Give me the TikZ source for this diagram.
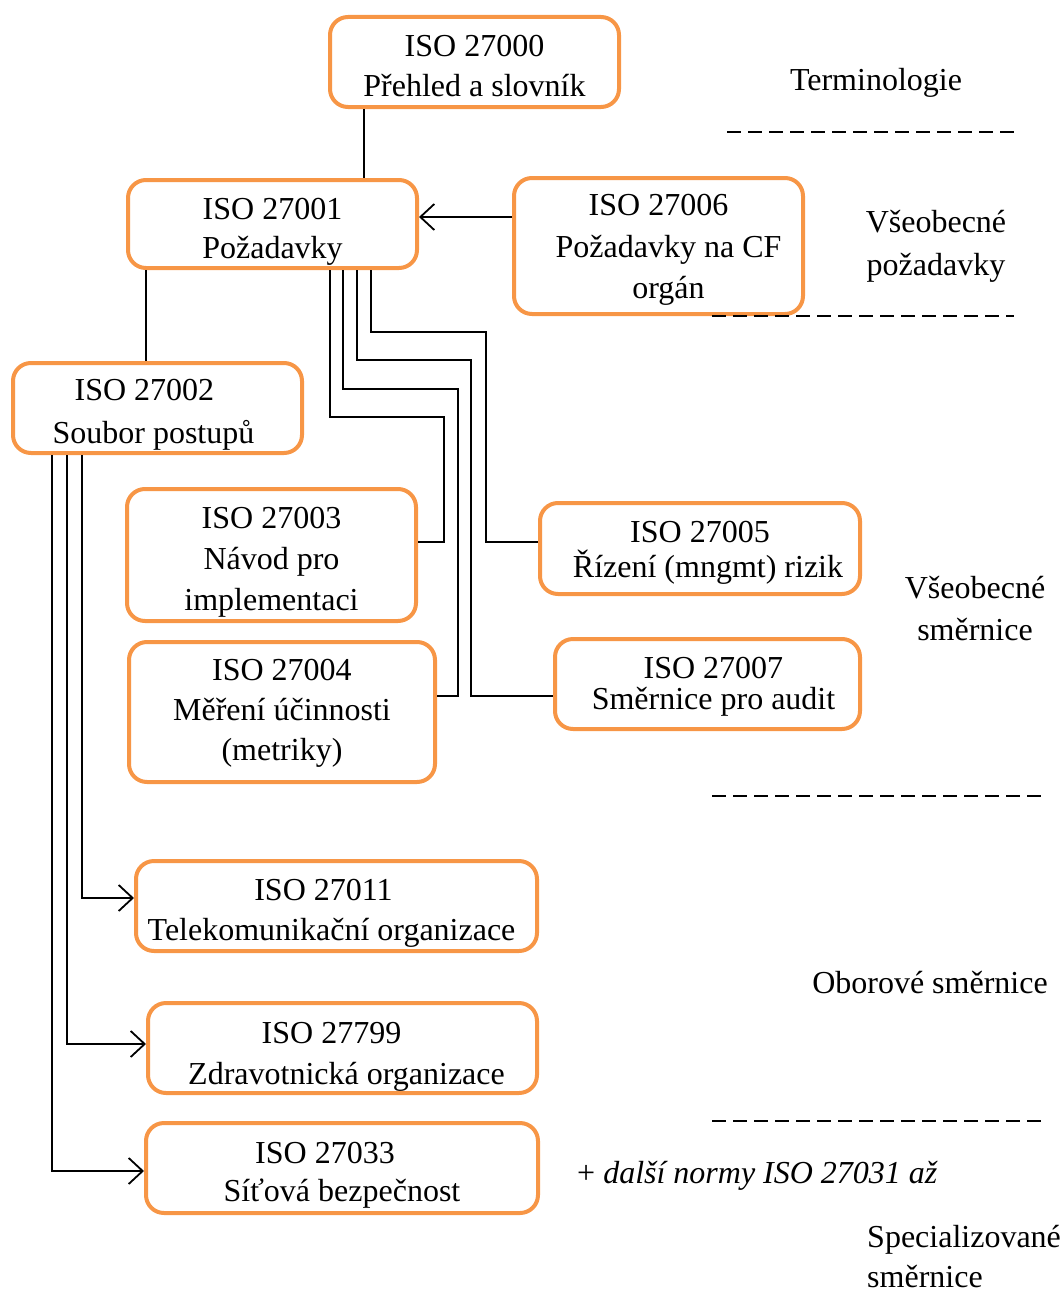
\documentclass[tikz,border=0pt]{standalone}
\usepackage{fontspec}
\setmainfont{Liberation Serif}
\usetikzlibrary{arrows.meta}
\definecolor{accent}{HTML}{F79646}
% strut on a box's first line: sets how far its text sits below the box centre
\newcommand{\firstline}[1]{\rule{0pt}{#1}}
\begin{document}
\begin{tikzpicture}[x=1pt,y=-1pt,
  font=\fontsize{32}{40}\selectfont,
  stdbox/.style={draw=accent, line width=4pt, rounded corners=18pt, fill=white,
                 align=center, inner sep=0pt},
  link/.style={line width=1.8pt, black},
  arr/.style={link, -{Straight Barb[length=14pt,width=26pt]}},
  sep/.style={line width=2pt, dash pattern=on 14pt off 7pt},
  lbl/.style={align=center, inner sep=0pt}]
\useasboundingbox (0,0) rectangle (1064,1290);

% standards
\node[stdbox, minimum width=289pt, minimum height=90pt] (b0) at (474.5,62) {\firstline{29.5pt}ISO 27000\\Přehled a slovník};
\node[stdbox, minimum width=289pt, minimum height=88pt, font=\fontsize{32}{39}\selectfont] (b1) at (272.5,224) {\firstline{36.5pt}ISO 27001\\Požadavky};
\node[stdbox, minimum width=289pt, minimum height=136pt, font=\fontsize{32}{41.5}\selectfont] (b6) at (658.5,246) {\firstline{29.5pt}ISO 27006\\\hspace*{20pt}Požadavky na CF\\\hspace*{20pt}orgán};
\node[stdbox, minimum width=289pt, minimum height=90pt, font=\fontsize{32}{43}\selectfont] (b2) at (157.5,408) {\firstline{34.5pt}ISO 27002\hspace*{26pt}\\Soubor postupů\hspace*{8pt}};
\node[stdbox, minimum width=289pt, minimum height=132pt, font=\fontsize{32}{41}\selectfont] (b3) at (271.5,555) {\firstline{35.5pt}ISO 27003\\Návod pro\\implementaci};
\node[stdbox, minimum width=306pt, minimum height=140pt] (b4) at (282,712) {\firstline{23.5pt}ISO 27004\\Měření účinnosti\\(metriky)};
\node[stdbox, minimum width=320pt, minimum height=91pt, font=\fontsize{32}{35}\selectfont] (b5) at (700,548.5) {\firstline{29.5pt}ISO 27005\\\hspace*{16pt}Řízení (mngmt) rizik};
\node[stdbox, minimum width=305pt, minimum height=90pt, font=\fontsize{32}{31}\selectfont] (b7) at (707.5,684) {\firstline{27.5pt}\hspace*{12pt}ISO 27007\\\hspace*{12pt}Směrnice pro audit};
\node[stdbox, minimum width=401pt, minimum height=90pt] (b11) at (336.5,906) {\firstline{35.5pt}ISO 27011\hspace*{26pt}\\Telekomunikační organizace\hspace*{10pt}};
\node[stdbox, minimum width=389pt, minimum height=90pt, font=\fontsize{32}{41}\selectfont] (b799) at (342.5,1048) {\firstline{39.5pt}ISO 27799\hspace*{22pt}\\\hspace*{8pt}Zdravotnická organizace};
\node[stdbox, minimum width=392pt, minimum height=90pt, font=\fontsize{32}{38}\selectfont] (b33) at (342,1168) {\firstline{35.5pt}ISO 27033\hspace*{34pt}\\Síťová bezpečnost};

% fixed bend points of the routed connectors
\coordinate (k3) at (444,417);
\coordinate (k4) at (458,389);
\coordinate (k7) at (471,360);
\coordinate (k5) at (486,332);
\coordinate (s01) at ([xshift=-110.5pt]b0.south);
\coordinate (s12) at ([xshift=-126.5pt]b1.south);
\coordinate (s61) at ([yshift=29pt]b6.west);

% connectors
\draw[link] (s01) -- (s01 |- b1.north);
\draw[link] (s12) -- (s12 |- b2.north);
\draw[arr] (s61) -- (s61 -| b1.east);
\draw[link] ([xshift=57.5pt]b1.south) |- (k3) |- ([yshift=13pt]b3.east);
\draw[link] ([xshift=70.5pt]b1.south) |- (k4) |- ([yshift=16pt]b4.east);
\draw[link] ([xshift=84.5pt]b1.south) |- (k7) |- ([yshift=-12pt]b7.west);
\draw[link] ([xshift=98.5pt]b1.south) |- (k5) |- ([yshift=6.5pt]b5.west);
\draw[arr] ([xshift=-75.5pt]b2.south) |- ([yshift=8pt]b11.west);
\draw[arr] ([xshift=-90.5pt]b2.south) |- ([yshift=4pt]b799.west);
\draw[arr] ([xshift=-105.5pt]b2.south) |- ([yshift=-3pt]b33.west);

% section separators
\draw[sep] (727,132) -- (1018,132);
\draw[sep] (712,316) -- (1014,316);
\draw[sep] (712,796) -- (1046,796);
\draw[sep] (712,1121) -- (1046,1121);

% section labels
\node[lbl] (t1) at (876,83) {Terminologie};
\node[lbl, font=\fontsize{32}{43}\selectfont] (t2) at (936,246) {Všeobecné\\požadavky};
\node[lbl, font=\fontsize{32}{42}\selectfont] (t3) at (975,609) {Všeobecné\\směrnice};
\node[lbl] (t4) at (930,983) {Oborové směrnice};
\node[lbl, anchor=west] (t5) at (577,1176) {+ \textit{další normy ISO 27031 až}};
\node[lbl, align=left, anchor=west] (t6) at (867,1257) {Specializované\\směrnice};
\end{tikzpicture}
\end{document}
